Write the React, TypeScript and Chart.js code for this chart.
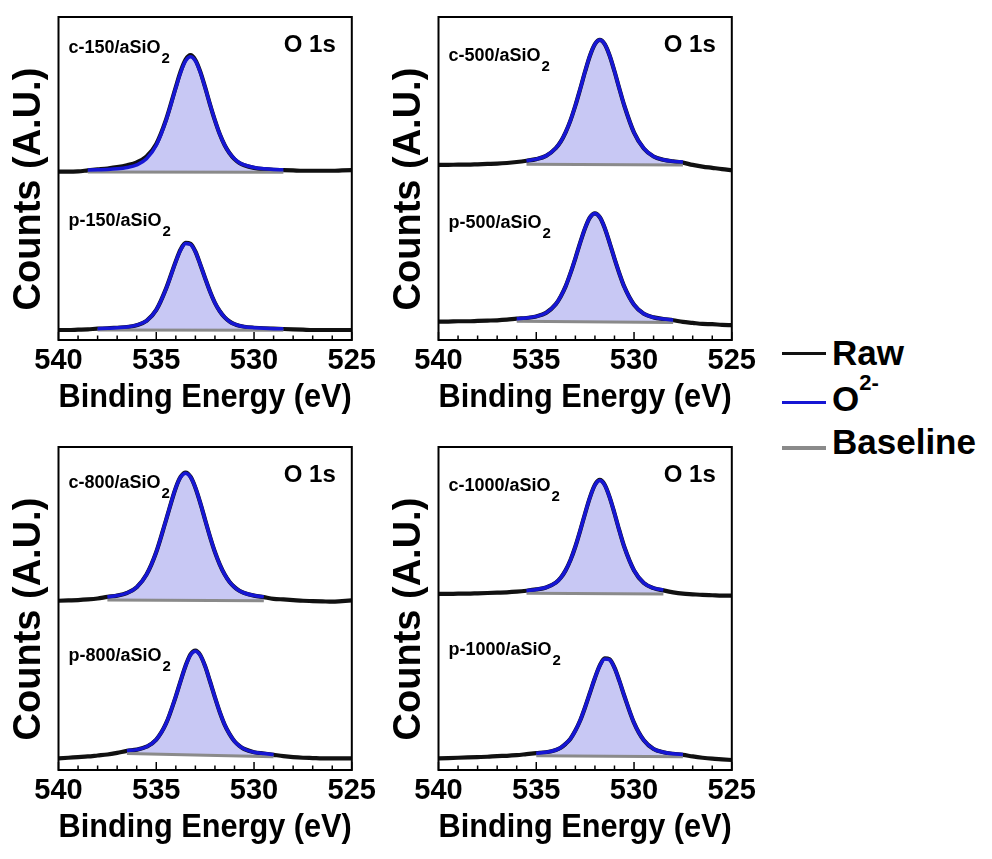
import React, { useEffect, useRef } from 'react';
import { Chart, registerables } from 'chart.js';

Chart.register(...registerables);

const FONT = '"Liberation Sans", Arial, Helvetica, sans-serif';

// Binding energy grid (eV) shared by all spectra
const bindingEnergy = [540, 539.5, 539, 538.5, 538, 537.5, 537, 536.5, 536, 535.5, 535, 534.5, 534, 533.75, 533.5, 533.25, 533, 532.75, 532.5, 532.25, 532, 531.75, 531.5, 531.25, 531, 530.75, 530.5, 530, 529.5, 529, 528.5, 528, 527.5, 527, 526.5, 526, 525.5, 525];

// ---- c-150 / p-150 ----
const c150Raw = [52.1, 52.1, 52.2, 52.5, 52.8, 53.1, 53.5, 54.1, 55.0, 56.8, 60.7, 68.2, 78.3, 83.2, 86.8, 88.2, 86.7, 83.1, 78.2, 72.9, 68.0, 63.7, 60.3, 57.8, 56.0, 54.8, 54.1, 53.3, 52.9, 52.7, 52.6, 52.5, 52.4, 52.4, 52.4, 52.4, 52.5, 52.6];
const c150Fit = [null, null, null, 52.6, 52.7, 52.8, 53.0, 53.4, 54.2, 56.1, 60.3, 68.0, 78.1, 82.9, 86.4, 87.7, 86.4, 82.9, 78.1, 72.9, 68.0, 63.7, 60.3, 57.8, 56.1, 54.9, 54.2, 53.4, 53.0, 52.8, 52.7, null, null, null, null, null, null, null];
const c150BaseE = [538.5, 528.5];
const c150BaseY = [52.0, 51.9];

const p150Raw = [3.1, 3.1, 3.2, 3.3, 3.5, 3.6, 3.8, 4.0, 4.6, 5.9, 9.3, 15.9, 24.4, 28.1, 30.1, 29.8, 27.4, 23.4, 19.1, 15.0, 11.5, 8.9, 7.0, 5.7, 4.9, 4.4, 4.1, 3.8, 3.6, 3.5, 3.4, 3.3, 3.2, 3.1, 3.1, 3.1, 3.1, 3.1];
const p150Fit = [null, null, null, null, 3.5, 3.6, 3.8, 4.0, 4.6, 5.9, 9.3, 15.8, 24.3, 27.9, 29.9, 29.6, 27.3, 23.4, 19.1, 15.0, 11.5, 8.9, 7.0, 5.7, 4.9, 4.4, 4.1, 3.8, 3.6, 3.5, 3.5, null, null, null, null, null, null, null];
const p150BaseE = [538, 528.5];
const p150BaseY = [3.1, 3.0];

// ---- c-500 / p-500 ----
const c500Raw = [54.2, 54.2, 54.3, 54.3, 54.4, 54.5, 54.6, 54.8, 55.1, 55.5, 56.0, 57.0, 59.4, 61.4, 64.3, 68.0, 72.6, 77.8, 83.2, 88.1, 91.6, 92.9, 91.6, 88.1, 83.2, 77.8, 72.6, 64.2, 59.3, 56.8, 55.8, 55.3, 54.9, 54.2, 53.7, 53.3, 52.9, 52.6];
const c500Fit = [null, null, null, null, null, null, null, null, null, 55.5, 56.0, 57.0, 59.4, 61.4, 64.3, 68.0, 72.6, 77.8, 83.2, 88.1, 91.6, 92.9, 91.6, 88.1, 83.2, 77.8, 72.6, 64.2, 59.3, 56.8, 55.8, 55.3, 55.1, null, null, null, null, null];
const c500BaseE = [535.5, 527.5];
const c500BaseY = [54.4, 54.2];

const p500Raw = [5.7, 5.7, 5.8, 5.8, 5.9, 6.0, 6.1, 6.3, 6.6, 6.8, 7.3, 8.4, 11.1, 13.5, 16.6, 20.7, 25.3, 30.2, 34.7, 38.0, 39.2, 38.0, 34.7, 30.1, 25.2, 20.6, 16.5, 10.9, 8.1, 7.0, 6.5, 6.1, 5.6, 5.3, 5.0, 4.9, 4.7, 4.6];
const p500Fit = [null, null, null, null, null, null, null, null, 6.6, 6.8, 7.3, 8.4, 11.1, 13.5, 16.6, 20.7, 25.3, 30.2, 34.7, 38.0, 39.2, 38.0, 34.7, 30.1, 25.2, 20.6, 16.5, 10.9, 8.1, 7.0, 6.5, 6.2, null, null, null, null, null, null];
const p500BaseE = [536, 528];
const p500BaseY = [5.8, 5.4];

// ---- c-800 / p-800 ----
const c800Raw = [52.4, 52.5, 52.6, 52.8, 53.1, 53.6, 54.0, 54.8, 56.6, 60.5, 67.5, 77.4, 87.4, 90.8, 92.1, 90.8, 87.4, 82.7, 77.4, 72.2, 67.5, 63.6, 60.5, 58.2, 56.6, 55.5, 54.8, 54.0, 53.5, 53.0, 52.8, 52.6, 52.4, 52.3, 52.2, 52.1, 52.3, 52.5];
const c800Fit = [null, null, null, null, null, 53.6, 54.0, 54.8, 56.6, 60.5, 67.5, 77.4, 87.4, 90.7, 91.9, 90.7, 87.4, 82.7, 77.4, 72.2, 67.5, 63.6, 60.5, 58.2, 56.6, 55.5, 54.8, 54.0, 53.6, null, null, null, null, null, null, null, null, null];
const c800BaseE = [537.5, 529.5];
const c800BaseY = [52.6, 52.4];

const p800Raw = [3.6, 3.8, 4.0, 4.2, 4.5, 4.8, 5.3, 5.9, 6.3, 7.2, 9.4, 14.4, 22.8, 27.7, 32.3, 35.8, 37.0, 35.6, 32.1, 27.4, 22.5, 17.9, 14.0, 11.1, 8.9, 7.5, 6.5, 5.5, 5.1, 4.7, 4.3, 4.0, 3.8, 3.7, 3.6, 3.6, 3.6, 3.6];
const p800Fit = [null, null, null, null, null, null, null, 6.0, 6.3, 7.2, 9.4, 14.4, 22.8, 27.6, 32.2, 35.6, 36.8, 35.5, 32.1, 27.4, 22.5, 17.9, 14.0, 11.1, 8.9, 7.5, 6.5, 5.5, 5.1, 4.8, null, null, null, null, null, null, null, null];
const p800BaseE = [536.5, 529];
const p800BaseY = [5.1, 4.1];

// ---- c-1000 / p-1000 ----
const c1000Raw = [54.5, 54.5, 54.6, 54.6, 54.7, 54.8, 54.9, 55.0, 55.2, 55.5, 55.9, 56.5, 58.0, 59.5, 61.8, 65.0, 69.2, 74.2, 79.5, 84.5, 88.3, 89.8, 88.3, 84.5, 79.5, 74.1, 69.1, 61.8, 57.9, 56.3, 55.6, 55.0, 54.6, 54.4, 54.2, 54.1, 54.0, 54.0];
const c1000Fit = [null, null, null, null, null, null, null, null, null, 55.5, 55.9, 56.5, 58.0, 59.5, 61.8, 65.0, 69.2, 74.2, 79.5, 84.5, 88.2, 89.6, 88.2, 84.5, 79.5, 74.1, 69.1, 61.8, 57.9, 56.3, 55.7, null, null, null, null, null, null, null];
const c1000BaseE = [535.5, 528.5];
const c1000BaseY = [54.7, 54.5];

const p1000Raw = [3.6, 3.7, 3.8, 3.9, 4.0, 4.1, 4.3, 4.4, 4.6, 4.9, 5.2, 5.5, 6.2, 6.9, 8.1, 9.7, 12.2, 15.4, 19.5, 24.0, 28.5, 32.4, 34.6, 34.3, 31.7, 27.6, 23.0, 14.6, 9.2, 6.5, 5.5, 5.0, 4.7, 4.2, 3.8, 3.5, 3.3, 3.1];
const p1000Fit = [null, null, null, null, null, null, null, null, null, null, 5.2, 5.5, 6.2, 6.9, 8.1, 9.7, 12.2, 15.4, 19.5, 24.0, 28.5, 32.3, 34.4, 34.1, 31.6, 27.6, 23.0, 14.6, 9.2, 6.5, 5.5, 5.0, 4.8, null, null, null, null, null];
const p1000BaseE = [535, 527.5];
const p1000BaseY = [4.4, 4.1];

// Axis / text
const xTicks = [540, 535, 530, 525];
const xTitle = 'Binding Energy (eV)';
const yTitle = 'Counts (A.U.)\u00A0\u00A0';
const coreLabel = 'O 1s';
const legendItems = ['Raw', 'O', 'Baseline'];

const BLACK = '#111111';
const BLUE = '#1616d4';
const GREY = '#8a8a8a';
const FILL = '#c8c8f4';

type Spec = { name: string; raw: (number | null)[]; fit: (number | null)[]; baseE: number[]; baseY: number[] };

const panels = [
  { left: 0, top: 0, cLab: 36, pLab: 209,
    c: { name: 'c-150/aSiO', raw: c150Raw, fit: c150Fit, baseE: c150BaseE, baseY: c150BaseY },
    p: { name: 'p-150/aSiO', raw: p150Raw, fit: p150Fit, baseE: p150BaseE, baseY: p150BaseY } },
  { left: 380, top: 0, cLab: 44, pLab: 211,
    c: { name: 'c-500/aSiO', raw: c500Raw, fit: c500Fit, baseE: c500BaseE, baseY: c500BaseY },
    p: { name: 'p-500/aSiO', raw: p500Raw, fit: p500Fit, baseE: p500BaseE, baseY: p500BaseY } },
  { left: 0, top: 430, cLab: 41, pLab: 214,
    c: { name: 'c-800/aSiO', raw: c800Raw, fit: c800Fit, baseE: c800BaseE, baseY: c800BaseY },
    p: { name: 'p-800/aSiO', raw: p800Raw, fit: p800Fit, baseE: p800BaseE, baseY: p800BaseY } },
  { left: 380, top: 430, cLab: 44, pLab: 208,
    c: { name: 'c-1000/aSiO', raw: c1000Raw, fit: c1000Fit, baseE: c1000BaseE, baseY: c1000BaseY },
    p: { name: 'p-1000/aSiO', raw: p1000Raw, fit: p1000Fit, baseE: p1000BaseE, baseY: p1000BaseY } },
];

function toPoints(vals: (number | null)[]) {
  const pts: { x: number; y: number }[] = [];
  bindingEnergy.forEach((e, i) => {
    const v = vals[i];
    if (v !== null && v !== undefined) pts.push({ x: e, y: v });
  });
  return pts;
}

function Panel({ panel }: { panel: any }) {
  const ref = useRef<HTMLCanvasElement>(null);
  useEffect(() => {
    const canvas = ref.current;
    if (!canvas) return;
    const datasets: any[] = [];
    [panel.c, panel.p].forEach((s: Spec) => {
      const baseIndex = datasets.length + 1;
      datasets.push({
        label: 'O2-', data: toPoints(s.fit), borderColor: BLUE, borderWidth: 3.5, pointRadius: 0,
        cubicInterpolationMode: 'monotone', backgroundColor: FILL,
        fill: { target: baseIndex, above: FILL, below: FILL }, order: 0,
      });
      datasets.push({
        label: 'Baseline', data: s.baseE.map((e, i) => ({ x: e, y: s.baseY[i] })),
        borderColor: GREY, borderWidth: 3, pointRadius: 0, fill: false, order: 1,
      });
      datasets.push({
        label: 'Raw', data: toPoints(s.raw), borderColor: BLACK, borderWidth: 4.2, pointRadius: 0,
        cubicInterpolationMode: 'monotone', fill: false, order: 2,
      });
    });

    const decor = {
      id: 'decor',
      afterDraw(chart: any) {
        const { ctx, chartArea: a, scales } = chart;
        const x = scales.x;
        ctx.save();
        ctx.strokeStyle = '#000';
        ctx.lineWidth = 1.5;
        for (let e = x.min; e <= x.max; e += 1) {
          const px = x.getPixelForValue(e);
          const len = e % 5 === 0 ? 8 : 4.5;
          ctx.beginPath();
          ctx.moveTo(px, a.bottom);
          ctx.lineTo(px, a.bottom - len);
          ctx.stroke();
        }
        ctx.lineWidth = 2;
        ctx.strokeRect(a.left, a.top, a.right - a.left, a.bottom - a.top);

        ctx.fillStyle = '#000';
        ctx.textBaseline = 'alphabetic';
        const drawName = (name: string, y: number) => {
          ctx.textAlign = 'left';
          ctx.font = `bold 18px ${FONT}`;
          ctx.fillText(name, a.left + 10, y);
          const w = ctx.measureText(name).width;
          ctx.font = `bold 15px ${FONT}`;
          ctx.fillText('2', a.left + 10 + w + 1, y + 10);
        };
        drawName(panel.c.name, a.top + panel.cLab);
        drawName(panel.p.name, a.top + panel.pLab);
        ctx.textAlign = 'right';
        ctx.font = `bold 24px ${FONT}`;
        ctx.fillText(coreLabel, a.right - 16, a.top + 35);
        ctx.restore();
      },
    };

    const chart = new Chart(canvas, {
      type: 'line',
      data: { datasets },
      options: {
        responsive: false,
        animation: false,
        events: [],
        layout: { padding: { top: 17, right: 28, bottom: 0, left: 0 }, autoPadding: false },
        plugins: {
          legend: { display: false },
          tooltip: { enabled: false },
          filler: { drawTime: 'beforeDatasetsDraw' },
        },
        scales: {
          x: {
            type: 'linear', position: 'bottom', min: 525, max: 540, reverse: true,
            grid: { display: false, drawTicks: false },
            border: { display: false },
            afterBuildTicks: (s: any) => { s.ticks = xTicks.map((v) => ({ value: v })); },
            ticks: {
              padding: 4, color: '#000', autoSkip: false, maxRotation: 0,
              font: { family: FONT, size: 29, weight: 'bold' },
              callback: (v: any) => String(v),
            },
            title: {
              display: true, text: xTitle, color: '#000',
              font: { family: FONT, size: 33.5, weight: 'bold' },
              padding: { top: 0, bottom: 2 },
            },
            afterFit: (s: any) => { s.height = 80; },
          },
          y: {
            type: 'linear', position: 'left', min: 0, max: 100,
            grid: { display: false, drawTicks: false },
            border: { display: false },
            ticks: { display: false },
            title: {
              display: true, text: yTitle, color: '#000',
              font: { family: FONT, size: 38, weight: 'bold' },
              padding: { top: 7, bottom: 0 },
            },
            afterFit: (s: any) => { s.width = 58.5; },
          },
        },
      } as any,
      plugins: [decor],
    });
    return () => chart.destroy();
  }, [panel]);

  return (
    <canvas
      ref={ref}
      width={380}
      height={420}
      style={{ position: 'absolute', left: panel.left, top: panel.top, width: 380, height: 420 }}
    />
  );
}

export default function App() {
  const textStyle: React.CSSProperties = {
    position: 'absolute', left: 832, font: `bold 35px ${FONT}`, lineHeight: '35px', color: '#000', whiteSpace: 'nowrap',
  };
  const lineStyle = (top: number, color: string, h: number): React.CSSProperties => ({
    position: 'absolute', left: 782, top: top - h / 2, width: 44, height: h, background: color,
  });
  const asc = 35 * 0.8465;
  return (
    <div style={{ position: 'absolute', left: 0, top: 0, width: 992, height: 859, background: '#fff', overflow: 'hidden' }}>
      {panels.map((p, i) => (
        <Panel key={i} panel={p} />
      ))}
      <div style={lineStyle(353, BLACK, 3)} />
      <div style={{ ...textStyle, top: 365 - asc }}>{legendItems[0]}</div>
      <div style={lineStyle(402, BLUE, 3)} />
      <div style={{ ...textStyle, top: 411 - asc }}>
        {legendItems[1]}
        <span style={{ fontSize: 22, position: 'relative', top: -21, lineHeight: '35px' }}>2-</span>
      </div>
      <div style={lineStyle(448, GREY, 4)} />
      <div style={{ ...textStyle, top: 454 - asc }}>{legendItems[2]}</div>
    </div>
  );
}
